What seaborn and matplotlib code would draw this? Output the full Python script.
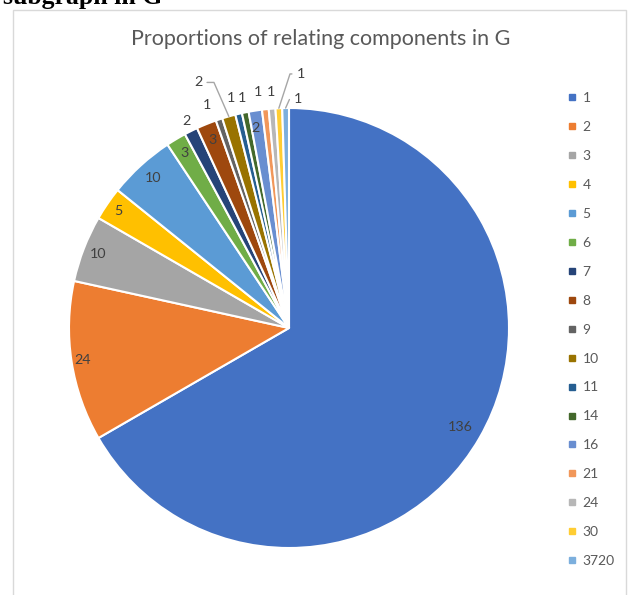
import numpy as np
import matplotlib
matplotlib.use("Agg")
import matplotlib.pyplot as plt
import seaborn as sns
from matplotlib.lines import Line2D
from matplotlib.patches import Rectangle

# ---- data ----
categories = ['1', '2', '3', '4', '5', '6', '7', '8', '9', '10', '11', '14', '16', '21', '24', '30', '3720']
counts = [136, 24, 10, 5, 10, 3, 2, 3, 1, 2, 1, 1, 2, 1, 1, 1, 1]
title = 'Proportions of relating components in G'
caption = 'subgraph in G'

# ---- style ----
colors = ['#4472C4', '#ED7D31', '#A5A5A5', '#FFC000', '#5B9BD5', '#70AD47', '#264478',
          '#9E480E', '#636363', '#997300', '#255E91', '#43682B', '#698ED0', '#F1975A',
          '#B7B7B7', '#FFCD33', '#7CAFDD']
# label radius (fraction of R) and angle tweak (deg); None -> leader label
lab_r = [0.90, 0.95, 0.93, 0.94, 0.92, 0.925, 1.05, 0.92, 1.08, None, 1.078, 1.067, 0.92, 1.082, 1.076, None, None]
lab_dt = [0, 0, 0, 0, 0, 0, 0, 0, 1.7, 0, 1.0, 0, 0.6, 1.3, 0, 0, 0]
# leader labels: index -> (radius, angle offset, angleB of leader)
leaders = {9: (1.19, 4.4, 113.6), 15: (1.156, -5.3, 72), 16: (1.04, -3.2, 66)}

sns.set_theme(style='white')
plt.rcParams['font.family'] = ['Lato', 'DejaVu Sans']

W, H = 630, 595
fig = plt.figure(figsize=(W / 100, H / 100), dpi=100)
cx, cy, R = 289, 328, 220
lim = 1.2
ax = fig.add_axes([(cx - lim * R) / W, (H - cy - lim * R) / H, 2 * lim * R / W, 2 * lim * R / H])

wedges, _ = ax.pie(counts, colors=colors, startangle=90, counterclock=False, radius=1,
                   wedgeprops=dict(edgecolor='white', linewidth=1.5))
ax.set_xlim(-lim, lim)
ax.set_ylim(-lim, lim)
ax.set_aspect('equal')
ax.axis('off')

lab_col = '#404040'
lab_fs = 10.3
for i, (w, v) in enumerate(zip(wedges, counts)):
    mid = (w.theta1 + w.theta2) / 2
    if i in leaders:
        r, dt, angB = leaders[i]
        t = np.deg2rad(mid + dt)
        m = np.deg2rad(mid)
        ax.annotate(str(v), xy=(np.cos(m), np.sin(m)), xytext=(r * np.cos(t), r * np.sin(t)),
                    ha='center', va='center', fontsize=lab_fs, color=lab_col, annotation_clip=False,
                    arrowprops=dict(arrowstyle='-', color='#A6A6A6', lw=1, shrinkA=1, shrinkB=0,
                                    connectionstyle=f'angle,angleA=0,angleB={angB},rad=0'))
    else:
        t = np.deg2rad(mid + lab_dt[i])
        r = lab_r[i]
        ax.text(r * np.cos(t), r * np.sin(t), str(v), ha='center', va='center',
                fontsize=lab_fs, color=lab_col, clip_on=False)

# legend
handles = [Line2D([], [], marker='s', linestyle='none', markersize=4.2, markerfacecolor=c,
                  markeredgecolor=c) for c in colors]
fig.legend(handles, categories, loc='upper left', bbox_to_anchor=(568 / W, 1 - 92 / H),
           frameon=False, fontsize=10, labelcolor='#595959', handlelength=0.6,
           handletextpad=0.45, labelspacing=1.22, borderpad=0, borderaxespad=0)

# chart border
fig.patches.append(Rectangle((13 / W, -0.02), (626 - 13) / W, 1.02 - 10 / H, transform=fig.transFigure,
                             fill=False, edgecolor='#D9D9D9', lw=1))
fig.text(321 / W, 1 - 39 / H, title, ha='center', va='center', color='#595959', fontsize=15.5)
fig.text(3 / W, 1 - 4 / H, caption, ha='left', va='baseline', fontsize=18.5, fontweight='bold',
         family=['Liberation Serif', 'DejaVu Serif'], color='black')

fig.savefig('out.png', dpi=100, facecolor='white')
